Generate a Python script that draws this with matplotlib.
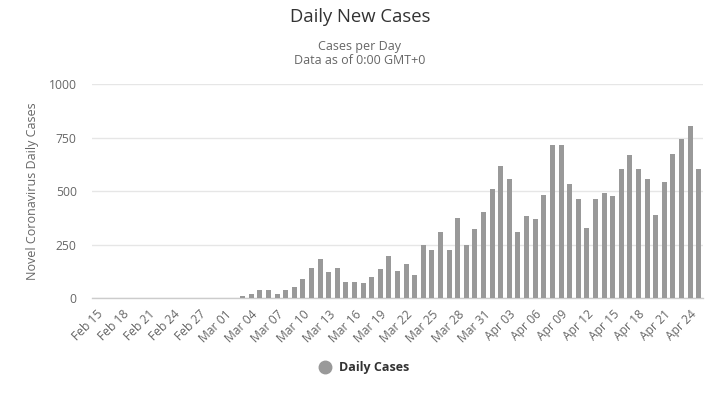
import matplotlib
matplotlib.use("Agg")
import matplotlib.pyplot as plt
import datetime as dt

plt.rcParams['font.family'] = ['Open Sans', 'DejaVu Sans']

start = dt.date(2020, 2, 15)
n_days = 71
dates = [start + dt.timedelta(days=i) for i in range(n_days)]
date_labels = [d.strftime("%b %d") for d in dates]

# Daily cases (Feb 15 .. Apr 25); zeros until Mar 02
cases = [0] * 17 + [
    9, 20, 39, 39, 20, 39, 53, 90, 141, 183, 123, 141, 76, 76, 70, 100, 135, 196,
    126, 159, 107, 247, 224, 308, 224, 373, 247, 322, 401,
    508, 616, 555, 308, 383, 369, 480, 717, 717, 535, 462, 327, 462, 490, 476,
    605, 670, 602, 555, 387, 540, 675, 745, 805, 605,
]

yticks = [0, 250, 500, 750, 1000]

fig = plt.figure(figsize=(7.2, 4.19), dpi=100)
ax = fig.add_axes([92/720, 1 - 298/419, (703-92)/720, (298-84)/419])

x = list(range(n_days))
ax.bar(x, cases, width=0.58, color='#999999', zorder=3)

ax.set_xlim(-0.5, n_days - 0.5)
ax.set_ylim(0, 1000)
ax.set_yticks(yticks)
ax.set_yticklabels([str(v) for v in yticks], fontsize=8.7, color='#666666')
ax.tick_params(axis='y', length=0, pad=11)
ax.yaxis.grid(True, color='#e6e6e6', linewidth=1, zorder=0)

tick_pos = x[::3]
ax.set_xticks(tick_pos)
ax.set_xticklabels([date_labels[i] for i in tick_pos], rotation=45, ha='right',
                   rotation_mode='anchor', fontsize=8.7, color='#666666')
ax.tick_params(axis='x', length=0, pad=7)

for s in ['top', 'right', 'left']:
    ax.spines[s].set_visible(False)
ax.spines['bottom'].set_color('#cccccc')
ax.spines['bottom'].set_linewidth(1)

ax.set_ylabel('Novel Coronavirus Daily Cases', fontsize=9, color='#666666')
ax.yaxis.set_label_coords(-0.087, 0.5)

fig.text(0.5, 1 - 17/419, 'Daily New Cases', ha='center', va='center',
         fontsize=13.3, color='#333333')
fig.text(0.5, 1 - 46/419, 'Cases per Day', ha='center', va='center',
         fontsize=9, color='#666666')
fig.text(0.5, 1 - 61/419, 'Data as of 0:00 GMT+0', ha='center', va='center',
         fontsize=9, color='#666666')

fig.lines.append(matplotlib.lines.Line2D([325/720], [1 - 367/419], transform=fig.transFigure,
                 marker='o', markersize=9, color='#999999', linestyle='none'))
fig.text(339/720, 1 - 367/419, 'Daily Cases', ha='left', va='center',
         fontsize=9, fontweight='bold', color='#333333')

fig.savefig('out.png', dpi=100)
